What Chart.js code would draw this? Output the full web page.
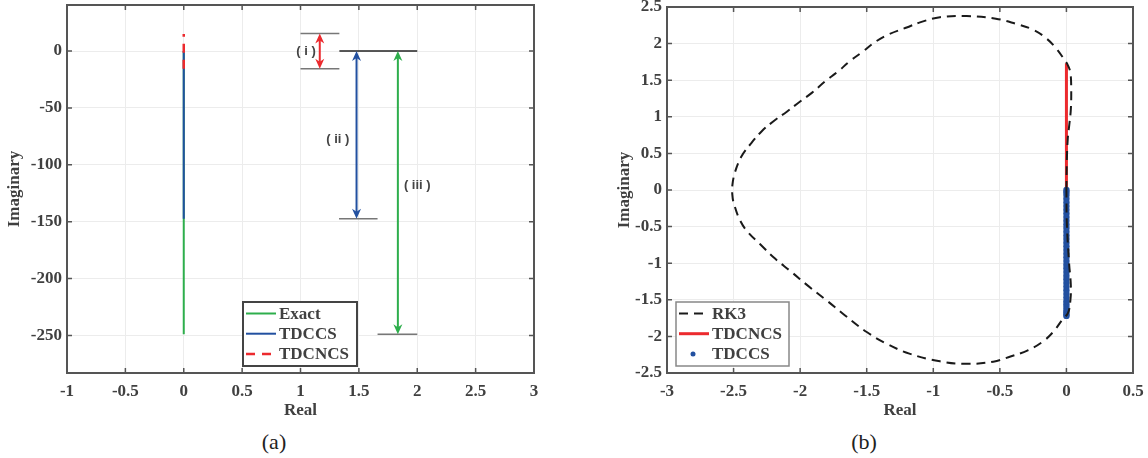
<!DOCTYPE html>
<html>
<head>
<meta charset="utf-8">
<script src="https://cdn.jsdelivr.net/npm/chart.js@4.4.0/dist/chart.umd.min.js"></script>
<style>
body { margin:0; background:#fff; width:1148px; height:458px; position:relative; overflow:hidden; }
canvas { position:absolute; }
.cap { position:absolute; font: 22px "Liberation Serif", serif; color:#222; transform: translate(-50%, -50%); }
</style>
</head>
<body>
<canvas id="chartA" width="570" height="425" style="left:0;top:0"></canvas>
<canvas id="chartB" width="538" height="425" style="left:610px;top:0"></canvas>
<div class="cap" style="left:274px;top:442px">(a)</div>
<div class="cap" style="left:864px;top:442px">(b)</div>
<script>
/* (a) spectra */
const exactRe = [0, 0];
const exactIm = [0, -249];
const tdccsRe = [0, 0];
const tdccsIm = [0, -147.5];
const tdcncsRe = [0, 0];
const tdcncsIm = [-15.5, 15];
const xTicksA = [-1, -0.5, 0, 0.5, 1, 1.5, 2, 2.5, 3];
const yTicksA = [-250, -200, -150, -100, -50, 0];

/* (b) stability region */
const rk3Re = [0, 0.003, 0.01, 0.022, 0.033, 0.036, 0.03, 0.012, -0.015, -0.08, -0.15, -0.25, -0.38, -0.53, -0.75,
  -0.95, -1.1, -1.2, -1.33, -1.43, -1.53, -1.63, -1.715, -1.815, -1.91, -2.0, -2.1, -2.2, -2.29, -2.365, -2.44,
  -2.49, -2.51, -2.51, -2.5, -2.45, -2.39, -2.3, -2.2, -2.065, -1.94, -1.8, -1.665, -1.5, -1.35, -1.18, -0.95,
  -0.75, -0.55, -0.42, -0.29, -0.18, -0.1, -0.03, 0.012, 0.03, 0.033, 0.02, 0.003, 0];
const rk3Im = [0, 0.4, 0.7, 0.9, 1.1, 1.37, 1.6, 1.7, 1.78, 1.94, 2.07, 2.19, 2.27, 2.34, 2.377,
  2.36, 2.29, 2.22, 2.13, 2.03, 1.89, 1.755, 1.62, 1.48, 1.33, 1.21, 1.07, 0.94, 0.8, 0.645, 0.46,
  0.24, 0.05, -0.05, -0.17, -0.42, -0.58, -0.74, -0.92, -1.12, -1.31, -1.51, -1.71, -1.94, -2.1, -2.235, -2.34,
  -2.375, -2.345, -2.275, -2.19, -2.075, -1.94, -1.77, -1.68, -1.5, -1.3, -1.0, -0.45, 0];
const ncsRe = [0, 0];
const ncsIm = [1.73, -1.73];
const ccsIm = [0, -0.03, -0.07, -0.12, -0.17, -0.22, -0.27, -0.32, -0.37, -0.42, -0.47, -0.52, -0.57, -0.62,
  -0.67, -0.72, -0.77, -0.82, -0.87, -0.92, -0.97, -1.02, -1.07, -1.12, -1.17, -1.22, -1.27, -1.32, -1.37,
  -1.42, -1.47, -1.52, -1.56, -1.6, -1.64, -1.67, -1.7, -1.72];
const xTicksB = [-3, -2.5, -2, -1.5, -1, -0.5, 0, 0.5];
const yTicksB = [-2.5, -2, -1.5, -1, -0.5, 0, 0.5, 1, 1.5, 2, 2.5];

const GREEN = '#2eae4c', BLUE = '#2250a0', RED = '#ec2a2e', TXT = '#404040';

function pts(xs, ys) { return ys.map((y, i) => ({ x: xs[i], y: y })); }

function axes(xt, yt, xr, yr, yw) {
  const tickFont = { family: '"Liberation Serif", serif', size: 17, weight: 'bold' };
  return {
    x: {
      type: 'linear', min: xr[0], max: xr[1],
      afterBuildTicks: s => { s.ticks = xt.map(v => ({ value: v })); },
      afterFit: s => { s.height = 52; s.paddingLeft = 0; s.paddingRight = 0; },
      grid: { color: '#ececec', drawTicks: false },
      border: { display: false },
      ticks: { padding: 8, color: TXT, font: tickFont, callback: v => String(v) },
      title: { display: true, text: 'Real', color: TXT, font: tickFont, padding: { top: 0, bottom: 4 } }
    },
    y: {
      type: 'linear', min: yr[0], max: yr[1],
      afterBuildTicks: s => { s.ticks = yt.map(v => ({ value: v })); },
      afterFit: s => { s.width = yw; s.paddingTop = 0; s.paddingBottom = 0; },
      grid: { color: '#ececec', drawTicks: false },
      border: { display: false },
      ticks: { padding: 5, color: TXT, font: tickFont, callback: v => String(v) },
      title: { display: true, text: 'Imaginary', color: TXT, font: tickFont }
    }
  };
}

// matlab-like box with inward ticks
const frame = {
  id: 'frame',
  afterDatasetsDraw(chart) {
    const { ctx, chartArea: a, scales } = chart;
    ctx.save();
    ctx.strokeStyle = '#555';
    ctx.lineWidth = 1.5;
    ctx.beginPath();
    scales.x.ticks.forEach(t => {
      const p = scales.x.getPixelForValue(t.value);
      ctx.moveTo(p, a.bottom); ctx.lineTo(p, a.bottom - 5);
      ctx.moveTo(p, a.top); ctx.lineTo(p, a.top + 5);
    });
    scales.y.ticks.forEach(t => {
      const p = scales.y.getPixelForValue(t.value);
      ctx.moveTo(a.left, p); ctx.lineTo(a.left + 5, p);
      ctx.moveTo(a.right, p); ctx.lineTo(a.right - 5, p);
    });
    ctx.stroke();
    ctx.lineWidth = 2;
    ctx.strokeRect(a.left, a.top, a.right - a.left, a.bottom - a.top);
    ctx.restore();
  }
};

const boxLegend = {
  id: 'boxLegend',
  afterDraw(chart, args, o) {
    const ctx = chart.ctx;
    ctx.save();
    ctx.fillStyle = '#fff';
    ctx.fillRect(o.x, o.y, o.w, o.h);
    ctx.strokeStyle = o.border;
    ctx.lineWidth = o.lw;
    ctx.strokeRect(o.x, o.y, o.w, o.h);
    ctx.font = 'bold 17px "Liberation Serif", serif';
    ctx.textBaseline = 'middle';
    chart.data.datasets.forEach((d, i) => {
      const cy = o.y + 11.5 + i * 20.2;
      if (d.showLine) {
        ctx.strokeStyle = d.borderColor;
        ctx.lineWidth = d.borderWidth;
        ctx.setLineDash(d.borderDash || []);
        ctx.beginPath();
        ctx.moveTo(o.x + 3, cy); ctx.lineTo(o.x + 33, cy);
        ctx.stroke();
        ctx.setLineDash([]);
      } else {
        ctx.fillStyle = d.backgroundColor;
        ctx.beginPath();
        ctx.arc(o.x + 17, cy, 2.5, 0, Math.PI * 2);
        ctx.fill();
      }
      ctx.fillStyle = TXT;
      ctx.fillText(d.label, o.x + 36, cy + 1);
    });
    ctx.restore();
  }
};

// brackets and arrows of panel (a)
const grayLines = [[1.0, 15.5, 1.333, 15.5], [1.0, -15.5, 1.333, -15.5], [1.33, -147.5, 1.66, -147.5], [1.66, -249, 2.0, -249]];
const arrowsA = [[1.165, 15.5, -15.5, RED], [1.48, 0, -147.5, BLUE], [1.834, 0, -249, GREEN]];
const notesA = [['( i )', 1.047, 0], ['( ii )', 1.32, -78], ['( iii )', 2.0, -118]];

function head(ctx, x, y, dir) {
  ctx.beginPath();
  ctx.moveTo(x, y);
  ctx.lineTo(x - 4.5, y + dir * 10);
  ctx.lineTo(x, y + dir * 7);
  ctx.lineTo(x + 4.5, y + dir * 10);
  ctx.closePath();
  ctx.fill();
}

const brackets = {
  id: 'brackets',
  afterDatasetsDraw(chart) {
    const { ctx, scales: { x, y } } = chart;
    ctx.save();
    ctx.lineWidth = 1.5;
    ctx.strokeStyle = '#777';
    grayLines.forEach(s => {
      ctx.beginPath();
      ctx.moveTo(x.getPixelForValue(s[0]), y.getPixelForValue(s[1]));
      ctx.lineTo(x.getPixelForValue(s[2]), y.getPixelForValue(s[3]));
      ctx.stroke();
    });
    ctx.strokeStyle = '#222';
    ctx.beginPath();
    ctx.moveTo(x.getPixelForValue(1.333), y.getPixelForValue(0));
    ctx.lineTo(x.getPixelForValue(2.0), y.getPixelForValue(0));
    ctx.stroke();
    arrowsA.forEach(a => {
      const px = x.getPixelForValue(a[0]);
      const y1 = y.getPixelForValue(a[1]), y2 = y.getPixelForValue(a[2]);
      ctx.strokeStyle = a[3];
      ctx.fillStyle = a[3];
      ctx.lineWidth = 2;
      ctx.beginPath();
      ctx.moveTo(px, y1 + 6); ctx.lineTo(px, y2 - 6);
      ctx.stroke();
      head(ctx, px, y1, 1);
      head(ctx, px, y2, -1);
    });
    ctx.fillStyle = '#444';
    ctx.font = 'bold 13px "Liberation Sans", sans-serif';
    ctx.textAlign = 'center';
    ctx.textBaseline = 'middle';
    notesA.forEach(n => ctx.fillText(n[0], x.getPixelForValue(n[1]), y.getPixelForValue(n[2])));
    ctx.restore();
  }
};

new Chart(document.getElementById('chartA'), {
  type: 'scatter',
  data: {
    datasets: [
      { label: 'Exact', data: pts(exactRe, exactIm), showLine: true, borderColor: GREEN, borderWidth: 2, pointRadius: 0, order: 3 },
      { label: 'TDCCS', data: pts(tdccsRe, tdccsIm), showLine: true, borderColor: BLUE, borderWidth: 2, pointRadius: 0, order: 2 },
      { label: 'TDCNCS', data: pts(tdcncsRe, tdcncsIm), showLine: true, borderColor: RED, borderWidth: 2.5, borderDash: [9, 7], pointRadius: 0, order: 1 }
    ]
  },
  options: {
    responsive: false,
    animation: false,
    layout: { padding: { left: 0, top: 5, right: 36, bottom: 0 } },
    plugins: {
      legend: { display: false },
      tooltip: { enabled: false },
      boxLegend: { x: 243, y: 302, w: 114, h: 64, border: '#444', lw: 2 }
    },
    scales: axes(xTicksA, yTicksA, [-1, 3], [-283, 40.5], 67)
  },
  plugins: [brackets, frame, boxLegend]
});

new Chart(document.getElementById('chartB'), {
  type: 'scatter',
  data: {
    datasets: [
      { label: 'RK3', data: pts(rk3Re, rk3Im), showLine: true, borderColor: '#1a1a1a', borderWidth: 2, borderDash: [9, 6], tension: 0.4, pointRadius: 0, order: 0 },
      { label: 'TDCNCS', data: pts(ncsRe, ncsIm), showLine: true, borderColor: RED, borderWidth: 3, pointRadius: 0, order: 2 },
      { label: 'TDCCS', data: pts(ccsIm.map(() => 0), ccsIm), showLine: false, backgroundColor: BLUE, borderWidth: 0, pointRadius: 3.2, order: 1 }
    ]
  },
  options: {
    responsive: false,
    animation: false,
    layout: { padding: { left: 0, top: 7, right: 15, bottom: 0 } },
    plugins: {
      legend: { display: false },
      tooltip: { enabled: false },
      boxLegend: { x: 66, y: 302, w: 113, h: 64, border: '#888', lw: 1.5 }
    },
    scales: axes(xTicksB, yTicksB, [-3, 0.5], [-2.5, 2.5], 57)
  },
  plugins: [frame, boxLegend]
});
</script>
</body>
</html>
